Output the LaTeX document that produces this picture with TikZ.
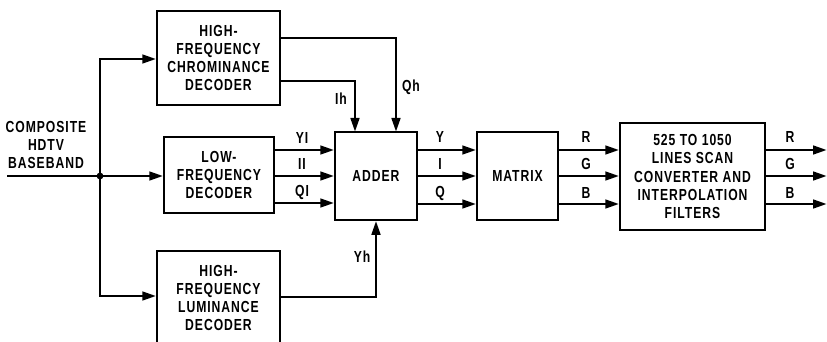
\documentclass[tikz,border=0pt]{standalone}
\usepackage{fontspec}
\setmainfont{Liberation Sans}[FakeStretch=0.76,LetterSpace=6]
\usetikzlibrary{arrows.meta}
\begin{document}
\begin{tikzpicture}[x=1pt,y=-1pt,
  blk/.style={draw,line width=1.5pt,inner sep=0pt,align=center,
    font=\fontsize{16}{18.3}\selectfont\bfseries},
  sig/.style={line width=2.9pt,-{Triangle[length=14pt,width=8.5pt]}},
  wire/.style={line width=2.9pt},
  lbl/.style={font=\fontsize{16}{18.3}\selectfont\bfseries,inner sep=0pt}]
\useasboundingbox (0,0) rectangle (827,342);
\begin{scope}
\clip (0,0) rectangle (827,342);
\node[blk,minimum width=123pt,minimum height=94pt] (chroma) at (218.5,58)
  {HIGH-\\FREQUENCY\\CHROMINANCE\\DECODER};
\node[blk,minimum width=110pt,minimum height=76pt] (lowf) at (219,175)
  {LOW-\\FREQUENCY\\DECODER};
\node[blk,minimum width=123pt,minimum height=94pt] (lum) at (218.5,298)
  {HIGH-\\FREQUENCY\\LUMINANCE\\DECODER};
\end{scope}
\node[blk,minimum width=82pt,minimum height=88pt] (adder) at (376,176) {ADDER};
\node[blk,minimum width=81pt,minimum height=88pt] (matrix) at (517.5,176) {MATRIX};
\node[blk,minimum width=145pt,minimum height=107pt] (scan) at (692.5,176.5)
  {525 TO 1050\\LINES SCAN\\CONVERTER AND\\INTERPOLATION\\FILTERS};
\node[lbl,align=center] (comp) at (46,145) {COMPOSITE\\HDTV\\BASEBAND};
% input
\coordinate (in) at (7,176);
\coordinate (j) at (100,176);
\draw[wire] (in) -- (j);
\draw[sig] (j) -- (lowf.west |- j);
\fill (j) circle (3.4pt);
\draw[sig] (j) -- (100,59) -- (chroma.west |- 0,59);
\draw[sig] (j) -- (100,296) -- (lum.west |- 0,296);
% low-frequency outputs
\foreach \yy in {150,176,203}{
  \draw[sig] (lowf.east |- 0,\yy) -- (adder.west |- 0,\yy);
}
\node[lbl] (lyl) at (302,138) {YI};
\node[lbl] (lil) at (302,164) {II};
\node[lbl] (lql) at (302,192) {QI};
% high-frequency
\draw[sig] (chroma.east |- 0,81) -- (355,81) -- (355,132);
\draw[sig] (chroma.east |- 0,38) -- (396,38) -- (396,132);
\draw[sig] (lum.east |- 0,297) -- (376,297) -- (adder.south);
\node[lbl] (lih) at (341,99) {Ih};
\node[lbl] (lqh) at (411,87) {Qh};
\node[lbl] (lyh) at (362,257) {Yh};
% adder -> matrix -> scan -> out
\foreach \yy in {150,176,204}{
  \draw[sig] (adder.east |- 0,\yy) -- (matrix.west |- 0,\yy);
  \draw[sig] (matrix.east |- 0,\yy) -- (scan.west |- 0,\yy);
  \draw[sig] (scan.east |- 0,\yy) -- (827,\yy);
}
\node[lbl] (ly) at (440,137) {Y};
\node[lbl] (li) at (440,164) {I};
\node[lbl] (lq) at (440,193) {Q};
\node[lbl] (lr) at (586,137) {R};
\node[lbl] (lg) at (586,164) {G};
\node[lbl] (lb) at (586,193) {B};
\node[lbl] (lr2) at (790,137) {R};
\node[lbl] (lg2) at (790,164) {G};
\node[lbl] (lb2) at (790,193) {B};
\end{tikzpicture}
\end{document}
